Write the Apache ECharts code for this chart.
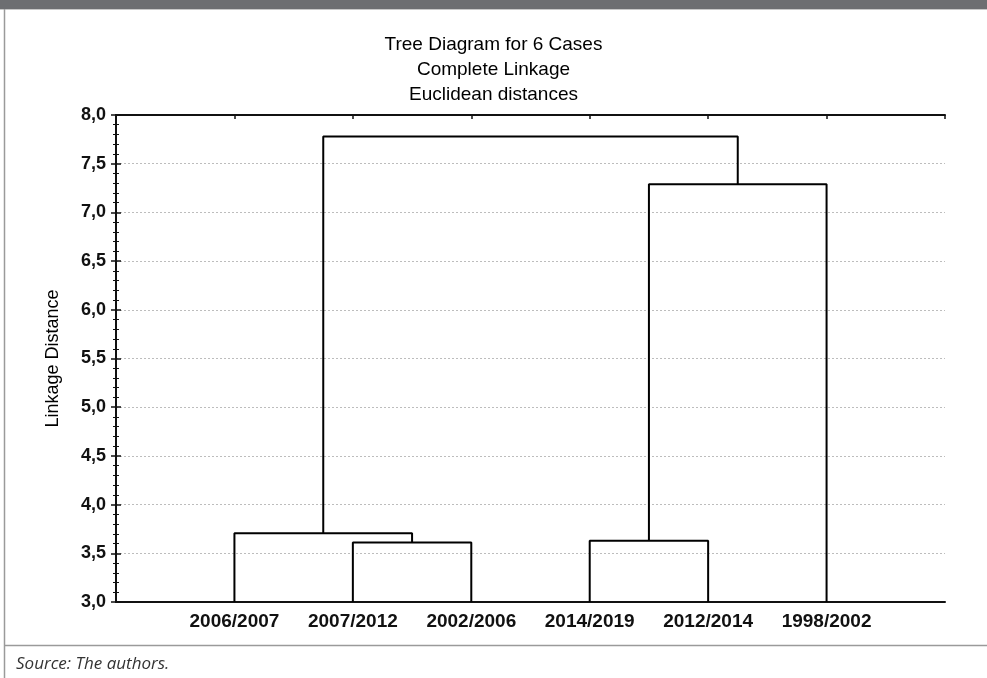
<!DOCTYPE html>
<html>
<head>
<meta charset="utf-8">
<style>
  html, body { margin: 0; padding: 0; background: #fff; }
  #chart { width: 987px; height: 678px; }
</style>
<script src="https://cdn.jsdelivr.net/npm/echarts@6/dist/echarts.min.js"></script>
</head>
<body>
<div id="chart"></div>
<script>
// ---- data ----
const titleLines = ['Tree Diagram for 6 Cases', 'Complete Linkage', 'Euclidean distances'];
const leaves = ['2006/2007', '2007/2012', '2002/2006', '2014/2019', '2012/2014', '1998/2002'];
// merges: node ids 0-5 are leaves, merge k creates node 6+k
const mergeA = [1, 3, 0, 7, 8];
const mergeB = [2, 4, 6, 5, 9];
const mergeHeight = [3.61, 3.63, 3.705, 7.29, 7.78];
const yMin = 3.0, yMax = 8.0, yStep = 0.5;
const yAxisName = 'Linkage Distance';
const sourceText = 'Source: The authors.';

// ---- build dendrogram from merge table ----
const nodeX = leaves.map((_, i) => i + 1);
const nodeY = leaves.map(() => yMin);
const series = [];
mergeA.forEach((a, k) => {
  const b = mergeB[k], h = mergeHeight[k];
  series.push({
    type: 'line',
    data: [[nodeX[a], nodeY[a]], [nodeX[a], h], [nodeX[b], h], [nodeX[b], nodeY[b]]],
    symbol: 'none',
    lineStyle: { color: '#000', width: 2 },
    silent: true,
    animation: false,
    z: 3
  });
  nodeX.push((nodeX[a] + nodeX[b]) / 2);
  nodeY.push(h);
});

const chart = echarts.init(document.getElementById('chart'), null, { renderer: 'canvas' });
const axisLineStyle = { color: '#111', width: 2 };
const fmt = v => v.toFixed(1).replace('.', ',');

chart.setOption({
  animation: false,
  backgroundColor: '#fff',
  title: {
    text: titleLines.join('\n'),
    left: 'center',
    top: 27,
    textStyle: { fontFamily: 'Liberation Sans', fontSize: 19, fontWeight: 'normal', color: '#000', lineHeight: 25 }
  },
  grid: { left: 116, right: 42, top: 115, bottom: 76 },
  xAxis: [
    {
      type: 'value', min: 0, max: leaves.length + 1, interval: 1, position: 'bottom',
      axisLine: { lineStyle: axisLineStyle },
      axisTick: { show: false },
      splitLine: { show: false },
      axisLabel: {
        formatter: v => leaves[v - 1] || '',
        margin: 10,
        fontFamily: 'Liberation Sans', fontSize: 19, fontWeight: 'bold', color: '#111'
      }
    },
    {
      type: 'value', min: 0, max: leaves.length + 1, interval: 1, position: 'top',
      axisLine: { lineStyle: axisLineStyle },
      axisTick: { show: true, inside: true, length: 4, lineStyle: { color: '#111', width: 1.5 } },
      splitLine: { show: false },
      axisLabel: { show: false }
    }
  ],
  yAxis: [
    {
      type: 'value', min: yMin, max: yMax, interval: yStep, position: 'left',
      name: yAxisName, nameLocation: 'middle', nameGap: 54, nameRotate: 90,
      nameTextStyle: { fontFamily: 'Liberation Sans', fontSize: 18, color: '#000' },
      axisLine: { show: true, lineStyle: axisLineStyle },
      axisTick: { show: true, inside: true, length: 5, lineStyle: { color: '#111', width: 1.5 } },
      minorTick: { show: true, splitNumber: 5, length: 3, lineStyle: { color: '#111', width: 1 } },
      splitLine: { show: true, lineStyle: { color: '#bdbdbd', width: 1, type: [2, 2] } },
      axisLabel: {
        formatter: fmt, margin: 10,
        fontFamily: 'Liberation Sans', fontSize: 18, fontWeight: 'bold', color: '#111'
      }
    },
    {
      type: 'value', min: yMin, max: yMax, interval: yStep, position: 'right',
      axisLine: { show: true, lineStyle: axisLineStyle },
      axisTick: { show: true, inside: true, length: 5, lineStyle: { color: '#111', width: 1.5 } },
      minorTick: { show: true, splitNumber: 5, length: 3, lineStyle: { color: '#111', width: 1 } },
      splitLine: { show: false },
      axisLabel: { show: false }
    }
  ],
  graphic: [
    { type: 'rect', shape: { x: 0, y: 0, width: 987, height: 9 }, style: { fill: '#6d6e71' }, silent: true },
    { type: 'rect', shape: { x: 0, y: 9, width: 987, height: 1 }, style: { fill: '#c8c8c8' }, silent: true },
    { type: 'line', shape: { x1: 4.5, y1: 9, x2: 4.5, y2: 678 }, style: { stroke: '#9a9a9a', lineWidth: 1.5 }, silent: true },
    { type: 'line', shape: { x1: 4, y1: 645.5, x2: 987, y2: 645.5 }, style: { stroke: '#9a9a9a', lineWidth: 1.5 }, silent: true },
    {
      type: 'text', left: 16, top: 656, silent: true,
      style: { text: sourceText, fontFamily: 'Open Sans', fontStyle: 'italic', fontSize: 17, fill: '#333' }
    }
  ],
  series: series
});
</script>
</body>
</html>
